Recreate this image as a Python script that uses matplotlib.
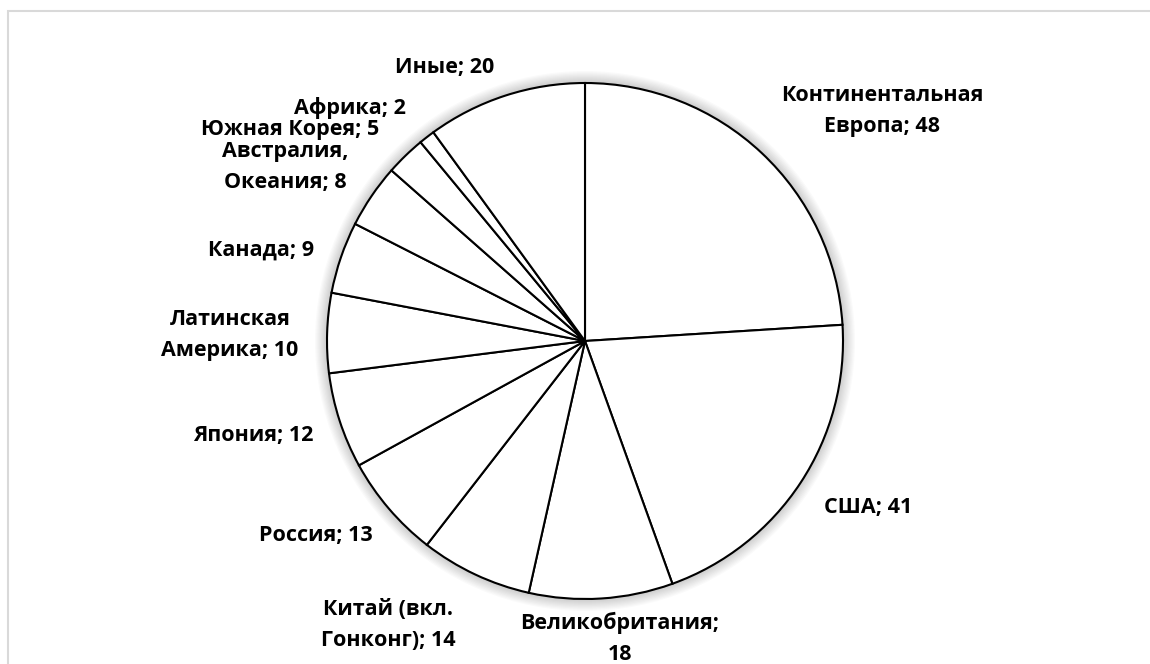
import matplotlib
matplotlib.use('Agg')
import matplotlib.pyplot as plt
from matplotlib.patches import Circle, Rectangle

plt.rcParams['font.family'] = ['Open Sans', 'DejaVu Sans']

regions = ['Континентальная\nЕвропа', 'США', 'Великобритания;\n', 'Китай (вкл.\nГонконг)',
           'Россия', 'Япония', 'Латинская\nАмерика', 'Канада', 'Австралия,\nОкеания',
           'Южная Корея', 'Африка', 'Иные']
values = [48, 41, 18, 14, 13, 12, 10, 9, 8, 5, 2, 20]

# label centres in pixels (x, y from top), as Excel placed them
label_px = [(882, 111), (868, 507), (620, 638), (388, 625), (316, 535), (253, 435),
            (230, 335), (261, 250), (285, 167), (290, 130), (350, 108), (445, 67)]

W, H = 1150, 664
cx, cy, R = 585, 341, 258     # pie centre and radius in pixels

fig = plt.figure(figsize=(W/100, H/100), dpi=100)
ax = fig.add_axes([0, 0, 1, 1])

# soft shadow round the pie
for k in range(1, 11):
	ax.add_patch(Circle((0, 0), 1 + k*1.2/R, facecolor='k', alpha=0.02, edgecolor='none', zorder=0))

wedges, _ = ax.pie(values, startangle=90, counterclock=False, radius=1,
	colors=['white']*len(values),
	wedgeprops=dict(edgecolor='black', linewidth=1.5))
for w in wedges:
	w.set_zorder(2)

ax.set_xlim(-cx/R, (W - cx)/R)
ax.set_ylim(-(H - cy)/R, cy/R)
ax.set_aspect('auto')
ax.axis('off')

for name, v, (px, py) in zip(regions, values, label_px):
	if name.endswith(';\n'):
		txt = name + str(v)
	else:
		txt = name + '; ' + str(v)
	ax.text((px - cx)/R, (cy - py)/R, txt, ha='center', va='center', fontsize=15.5,
		fontweight='bold', linespacing=1.62, color='black')

# light frame like the Excel chart area
fig.add_artist(Rectangle((8/W, -0.1), 1.2, 1.1 - 11/H, transform=fig.transFigure,
	fill=False, edgecolor='#d9d9d9', linewidth=1.5))

fig.savefig('out.png', dpi=100, facecolor='white')
